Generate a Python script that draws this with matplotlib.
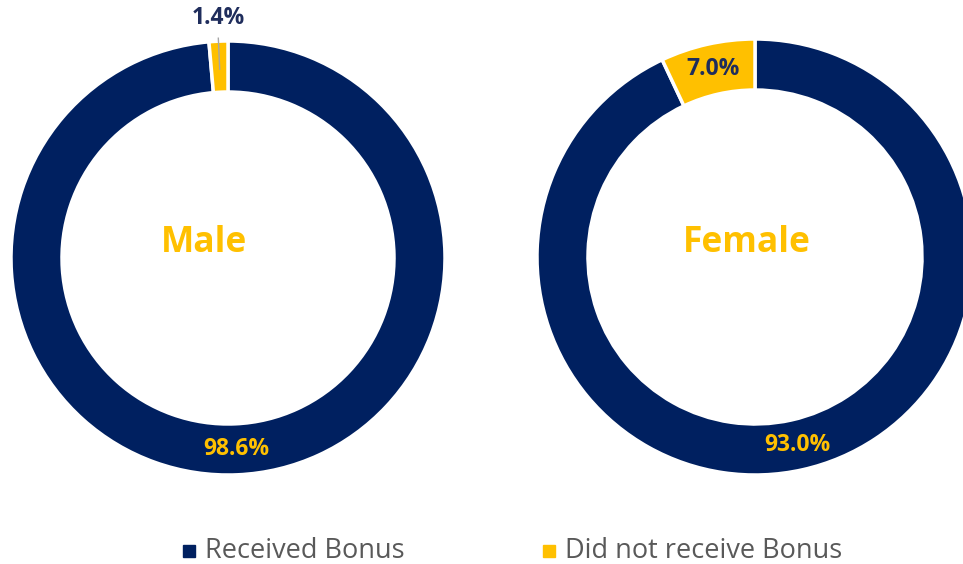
import numpy as np
import matplotlib
matplotlib.use('Agg')
import matplotlib.pyplot as plt
from matplotlib.patches import Rectangle

plt.rcParams['font.family'] = ['Open Sans', 'DejaVu Sans']

groups = ['Male', 'Female']
categories = ['Received Bonus', 'Did not receive Bonus']
received = [98.6, 93.0]
not_received = [1.4, 7.0]

navy = '#002060'
gold = '#FFC000'
label_navy = '#1F2D5C'

fig = plt.figure(figsize=(9.63, 5.64), dpi=100)
ax = fig.add_axes([0, 0, 1, 1])

# donut centres / radii in pixel space (y up)
centres = [(228, 306), (755, 307)]
radii = [217, 218]
ring = 51
name_pos = [(204, 321), (747, 321)]

for i, g in enumerate(groups):
    cx, cy = centres[i]
    r = radii[i]
    vals = [received[i], not_received[i]]
    wedges, texts, autotexts = ax.pie(
        vals, center=(cx, cy), radius=r, startangle=90, counterclock=False,
        colors=[navy, gold], autopct='%.1f%%', pctdistance=(r - ring / 2) / r,
        wedgeprops=dict(width=ring, edgecolor='white', linewidth=2.5),
        textprops=dict(fontsize=16.5, fontweight='bold'), frame=True)
    autotexts[0].set_color(gold)
    autotexts[1].set_color(label_navy)
    if vals[1] < 3:
        # small slice: label outside with leader line
        w = wedges[1]
        ang = np.deg2rad((w.theta1 + w.theta2) / 2)
        x0 = cx + (r - 28) * np.cos(ang)
        y0 = cy + (r - 28) * np.sin(ang)
        x1 = cx + (r + 3) * np.cos(ang)
        y1 = cy + (r + 3) * np.sin(ang)
        ax.plot([x0, x1], [y0, y1], color='#A6A6A6', lw=1, zorder=5)
        autotexts[1].set_position((x1, y1 + 8))
        autotexts[1].set_va('bottom')
    ax.text(name_pos[i][0], name_pos[i][1], g,
            color=gold, fontsize=25.5, fontweight='bold', ha='center', va='center')

ax.set_xlim(0, 963)
ax.set_ylim(0, 564)
ax.set_aspect('equal')
ax.axis('off')

# legend
leg_x = [183, 543]
for j, c in enumerate(categories):
    col = [navy, gold][j]
    ax.add_patch(Rectangle((leg_x[j], 7), 12, 12, color=col))
    ax.text(leg_x[j] + 22, 13, c, fontsize=19.5, color='#595959', va='center', ha='left')

fig.savefig('out.png', dpi=100)
